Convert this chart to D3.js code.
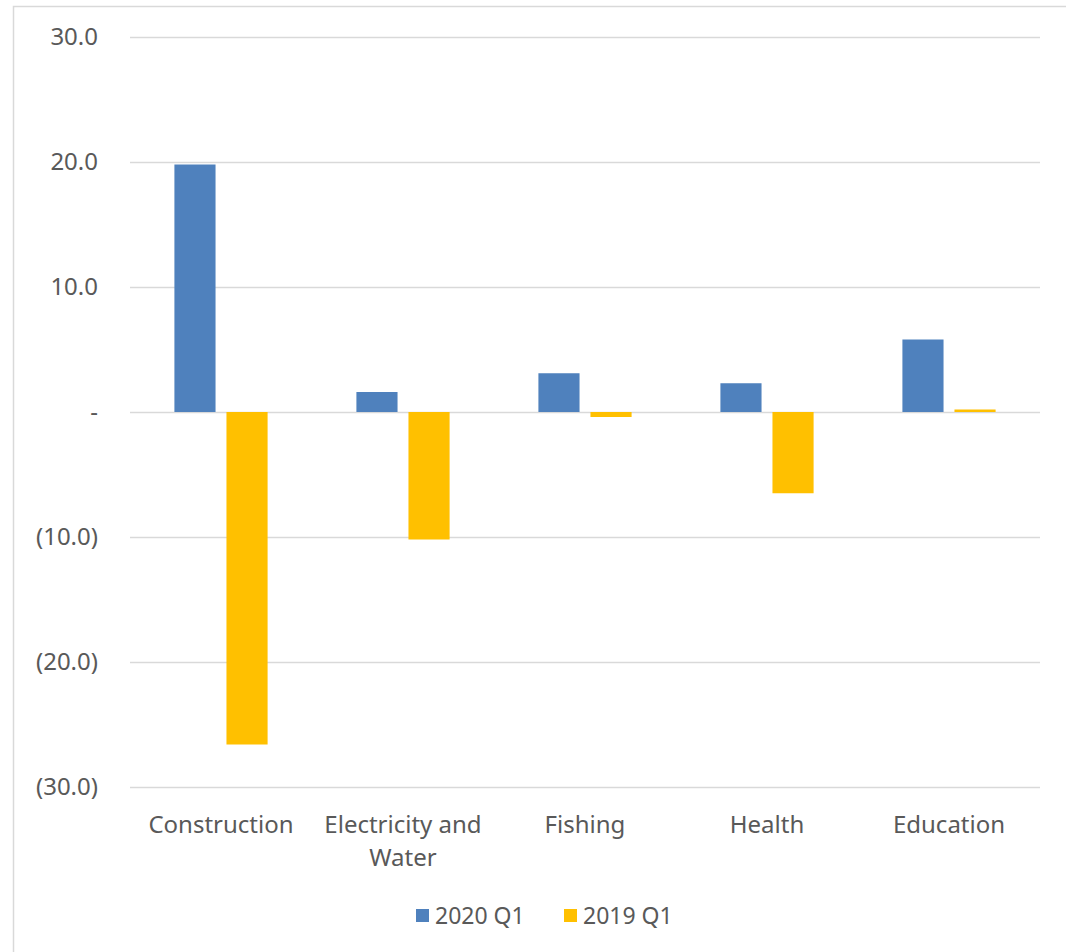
<!DOCTYPE html>
<html>
<head>
<meta charset="utf-8">
<script src="https://cdn.jsdelivr.net/npm/d3@7"></script>
<style>
  html, body { margin: 0; padding: 0; background: #fff; }
  svg { display: block; }
  text { font-family: "Noto Sans", "Open Sans", sans-serif; fill: #595959; }
</style>
</head>
<body>
<svg id="chart" width="1066" height="952"></svg>
<script>
const categories = ["Construction", "Electricity and Water", "Fishing", "Health", "Education"];
const categoryLines = [["Construction"], ["Electricity and", "Water"], ["Fishing"], ["Health"], ["Education"]];
const seriesNames = ["2020 Q1", "2019 Q1"];
const values2020 = [19.8, 1.6, 3.1, 2.3, 5.8];
const values2019 = [-26.6, -10.2, -0.4, -6.5, 0.2];
const yTicks = [30, 20, 10, 0, -10, -20, -30];
const yTickLabels = ["30.0", "20.0", "10.0", "-", "(10.0)", "(20.0)", "(30.0)"];
const colors = ["#4F81BD", "#FFC000"];

const svg = d3.select("#chart");
const W = 1066, H = 952;

// outer chart border
svg.append("rect").attr("x", 13.5).attr("y", 6.5).attr("width", W + 10).attr("height", H + 10)
  .attr("fill", "none").attr("stroke", "#d9d9d9").attr("stroke-width", 1.5);

const plot = { left: 130, right: 1040, top: 37, bottom: 787 };

const y = d3.scaleLinear().domain([-30, 30]).range([plot.bottom, plot.top]);
const x0 = d3.scaleBand().domain(categories).range([plot.left, plot.right]).padding(0);
const groupW = x0.bandwidth() * 0.512;
const x1 = d3.scaleBand().domain(seriesNames).range([0, groupW]).paddingInner(0.21).paddingOuter(0);

// gridlines via axis
const gridAxis = d3.axisLeft(y).tickValues(yTicks).tickSize(-(plot.right - plot.left)).tickFormat("");
const grid = svg.append("g").attr("transform", `translate(${plot.left},0)`).call(gridAxis);
grid.select(".domain").remove();
grid.selectAll("line").attr("stroke", "#d9d9d9").attr("stroke-width", 1.5);

// y labels
const yAxis = d3.axisLeft(y).tickValues(yTicks).tickSize(0).tickPadding(0)
  .tickFormat((d, i) => yTickLabels[yTicks.indexOf(d)]);
const ya = svg.append("g").attr("transform", `translate(98,0)`).call(yAxis);
ya.select(".domain").remove();
ya.selectAll("text").attr("font-size", 24).attr("fill", "#595959")
  .attr("font-family", "'Noto Sans', sans-serif");

// bars
const data = categories.map((c, i) => ({ cat: c, vals: [values2020[i], values2019[i]] }));
const groups = svg.append("g").selectAll("g").data(data).join("g")
  .attr("transform", d => `translate(${x0(d.cat) + (x0.bandwidth() - groupW) / 2},0)`);
groups.selectAll("rect").data(d => d.vals.map((v, j) => ({ v, s: seriesNames[j], j })))
  .join("rect")
  .attr("x", d => x1(d.s))
  .attr("width", x1.bandwidth())
  .attr("y", d => y(Math.max(0, d.v)))
  .attr("height", d => Math.abs(y(d.v) - y(0)))
  .attr("fill", d => colors[d.j]);

// category labels
const catG = svg.append("g");
categories.forEach((c, i) => {
  const cx = x0(c) + x0.bandwidth() / 2;
  const t = catG.append("text").attr("x", cx).attr("y", 833).attr("text-anchor", "middle").attr("font-size", 24);
  categoryLines[i].forEach((ln, k) => {
    t.append("tspan").attr("x", cx).attr("dy", k === 0 ? 0 : 33).text(ln);
  });
});

// legend
const leg = svg.append("g");
const legendX = [416, 564];
seriesNames.forEach((s, i) => {
  leg.append("rect").attr("x", legendX[i]).attr("y", 909).attr("width", 13).attr("height", 13).attr("fill", colors[i]);
  leg.append("text").attr("x", legendX[i] + 19).attr("y", 924).attr("font-size", 23).text(s);
});
</script>
</body>
</html>
